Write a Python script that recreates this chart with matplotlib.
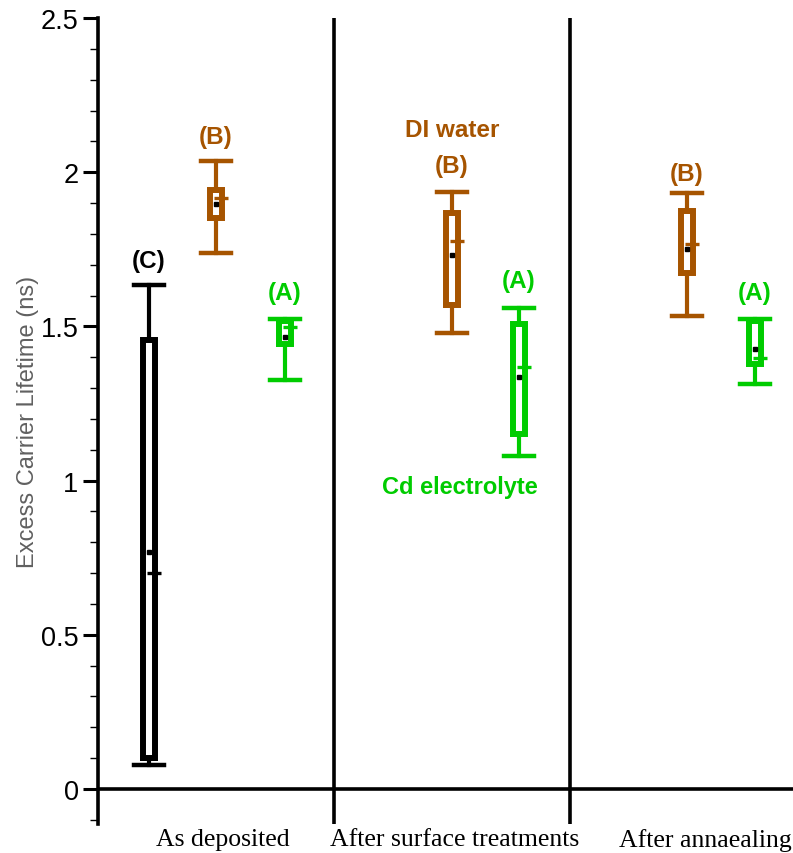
import matplotlib.pyplot as plt
from matplotlib.ticker import MultipleLocator
import matplotlib.transforms as mtransforms

# ==========================================
# DATA: box statistics per sample (ns)
# ==========================================
stages = ['As deposited', 'After surface treatments', 'After annaealing']
stage_centers = [0.53, 1.51, 2.575]

positions = [0.216, 0.50, 0.792, 1.50, 1.784, 2.496, 2.784]
samples = ['(C)', '(B)', '(A)', '(B)', '(A)', '(B)', '(A)']
whisk_lo = [0.078, 1.738, 1.327, 1.480, 1.081, 1.535, 1.314]
q1 = [0.100, 1.852, 1.443, 1.569, 1.151, 1.673, 1.378]
median = [0.700, 1.917, 1.499, 1.778, 1.369, 1.767, 1.398]
mean = [0.768, 1.897, 1.466, 1.731, 1.335, 1.752, 1.425]
q3 = [1.456, 1.943, 1.518, 1.868, 1.508, 1.875, 1.518]
whisk_hi = [1.634, 2.036, 1.524, 1.937, 1.561, 1.933, 1.524]
label_y = [1.712, 2.117, 1.611, 2.023, 1.650, 1.997, 1.611]

BLACK = '#000000'
BROWN = '#A65400'
GREEN = '#00CC00'
colors = {'(C)': BLACK, '(B)': BROWN, '(A)': GREEN}

fig = plt.figure(figsize=(7.93, 8.54), dpi=100)
ax = fig.add_axes([98 / 793, 29 / 854, 695 / 793, 806 / 854])

# ==========================================
# BOXES
# ==========================================
box_w = 0.05
for i, pos in enumerate(positions):
    c = colors[samples[i]]
    stats = [{
        'whislo': whisk_lo[i], 'q1': q1[i], 'med': median[i],
        'q3': q3[i], 'whishi': whisk_hi[i], 'mean': mean[i], 'fliers': [],
    }]
    parts = ax.bxp(
        stats, positions=[pos], widths=box_w, capwidths=0.13,
        showmeans=True, showfliers=False, manage_ticks=False,
        boxprops=dict(color=c, linewidth=4.3, solid_joinstyle='miter'),
        whiskerprops=dict(color=c, linewidth=3.0),
        capprops=dict(color=c, linewidth=3.2),
        medianprops=dict(color=c, linewidth=2.4),
        meanprops=dict(marker='s', markersize=3.5, markerfacecolor='black',
                       markeredgecolor='black'),
    )
    # median tick sits off to the right of the box
    for ln in parts['medians']:
        ln.set_xdata([pos - 0.01, pos + 0.05])
    ax.text(pos, label_y[i], samples[i], color=c, fontsize=17.5,
            fontweight='bold', family='Liberation Sans',
            ha='center', va='center')

ax.text(1.50, 2.137, 'DI water', color=BROWN, fontsize=17.5,
        fontweight='bold', family='Liberation Sans', ha='center', va='center')
ax.text(1.534, 0.982, 'Cd electrolyte', color=GREEN, fontsize=17,
        fontweight='bold', family='Liberation Sans', ha='center', va='center')

# ==========================================
# AXES & FRAME
# ==========================================
ax.set_xlim(0, 695 / 236)
ax.set_ylim(-0.114, 2.5)
ax.axhline(0, color='black', linewidth=2.6, zorder=1)
for xs in [1, 2]:
    ax.axvline(xs, color='black', linewidth=2.6, zorder=1)

for side in ['top', 'right', 'bottom']:
    ax.spines[side].set_visible(False)
ax.spines['left'].set_linewidth(2.6)
ax.set_xticks([])
ax.yaxis.set_major_locator(MultipleLocator(0.5))
ax.yaxis.set_minor_locator(MultipleLocator(0.1))
ax.set_yticks([0, 0.5, 1, 1.5, 2, 2.5])
ax.set_yticklabels(['0', '0.5', '1', '1.5', '2', '2.5'])
ax.tick_params(axis='y', which='major', direction='out', length=11, width=2.2,
               labelsize=19.5, pad=3)
ax.tick_params(axis='y', which='minor', direction='out', length=6, width=1)
for lbl in ax.get_yticklabels():
    lbl.set_family('Liberation Sans')

ax.set_ylabel('Excess Carrier Lifetime (ns)', fontsize=17, color='#606060',
              family='Liberation Sans', labelpad=1)

trans = mtransforms.blended_transform_factory(ax.transData, ax.transAxes)
for xc, name in zip(stage_centers, stages):
    ax.text(xc, -0.019, name, transform=trans, fontsize=18.5, family='Liberation Serif',
            ha='center', va='center')

plt.savefig('out.png', dpi=100)
